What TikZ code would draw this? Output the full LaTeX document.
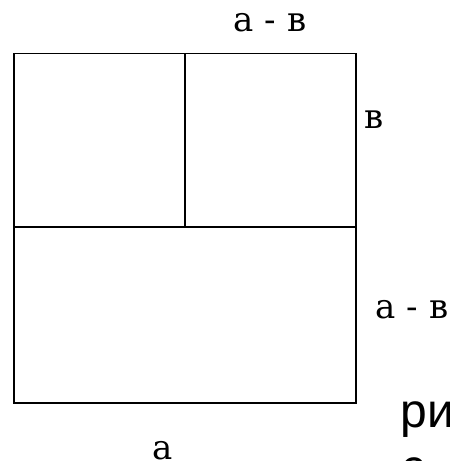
\documentclass[tikz,border=0pt]{standalone}
\usepackage{fontspec}
\setmainfont{Liberation Sans}
\newfontfamily\etiqfnt{DejaVu Serif}

\begin{document}
\begin{tikzpicture}[x=1pt, y=-1pt, line width=1.5pt,
  every node/.style={font=\etiqfnt\fontsize{34}{34}\selectfont, inner sep=0pt, anchor=base}]
  \useasboundingbox (0,0) rectangle (450,461);

  % Cuadrado
  \coordinate (nw) at (14,53.5);    % Esquina superior izquierda
  \coordinate (se) at (356,403);    % Esquina inferior derecha
  \draw (nw) rectangle (se);
  \draw (14,227) -- (356,227);      % Corte horizontal
  \draw (185,53.5) -- (185,227);    % Corte vertical

  % Etiquetas
  \node (arriba) at (270,31) {a - в};
  \node (lado) at (374,128) {в};
  \node (abajo) at (412,318) {a - в};
  \node (base) at (163,459) {a};
  \node[font=\fontsize{48}{48}\selectfont, anchor=base west] (ri) at (400,427) {ри};
  \node[font=\fontsize{48}{48}\selectfont, anchor=base west] (s) at (401,483) {с};
\end{tikzpicture}
\end{document}
